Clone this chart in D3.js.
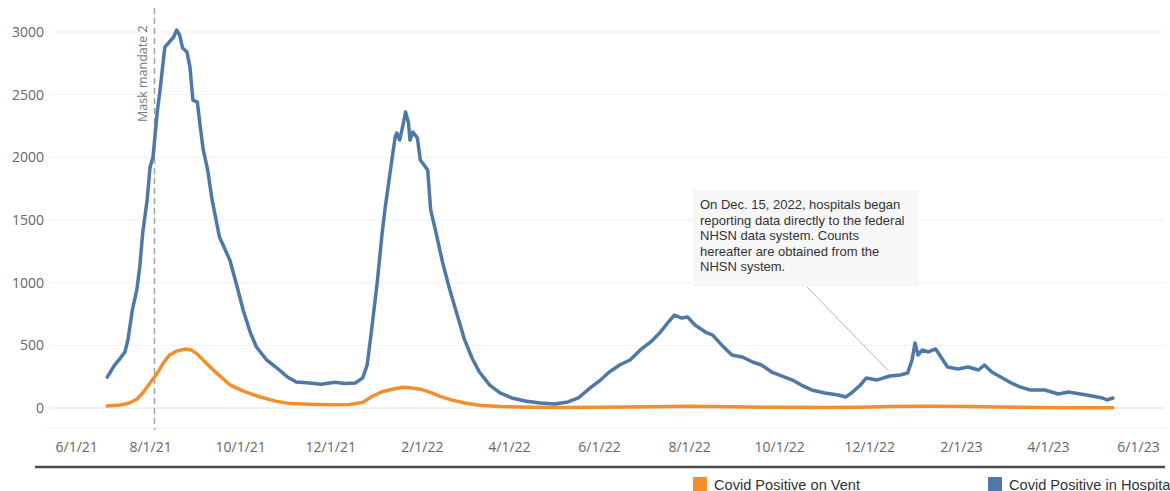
<!DOCTYPE html>
<html lang="en">
<head>
<meta charset="utf-8">
<title>Covid Positive Hospitalizations</title>
<style>
  body {margin: 0; background: #fff; overflow: hidden;}
  svg  {display: block;}
  .tick text {font-family: "Open Sans", sans-serif; font-size: 14px; fill: #666;}
  .note {font-family: "Liberation Sans", Arial, sans-serif; font-size: 13px; fill: #333;}
  .legend text {font-family: "Liberation Sans", Arial, sans-serif; font-size: 14.6px; fill: #333;}
</style>
</head>
<body>

<svg id="chart" width="1170" height="491"></svg>

<script src="https://d3js.org/d3.v7.min.js"></script>

<script>
// hospitalized covid positive patients
const hospDates = [
  "2021-07-03","2021-07-08","2021-07-12","2021-07-15","2021-07-17","2021-07-20","2021-07-23","2021-07-25",
  "2021-07-27","2021-07-30","2021-08-01","2021-08-03","2021-08-06","2021-08-08","2021-08-10","2021-08-11",
  "2021-08-14","2021-08-17","2021-08-19","2021-08-21","2021-08-23","2021-08-26","2021-08-28","2021-08-30",
  "2021-09-02","2021-09-04","2021-09-06","2021-09-09","2021-09-12","2021-09-17","2021-09-24","2021-09-29",
  "2021-10-03","2021-10-08","2021-10-12","2021-10-19","2021-10-26","2021-11-02","2021-11-08","2021-11-17",
  "2021-11-25","2021-12-04","2021-12-11","2021-12-18","2021-12-23","2021-12-26","2021-12-29","2022-01-02",
  "2022-01-05","2022-01-07","2022-01-12","2022-01-14","2022-01-15","2022-01-17","2022-01-19","2022-01-21",
  "2022-01-23","2022-01-24","2022-01-26","2022-01-29","2022-01-31","2022-02-05","2022-02-07","2022-02-11",
  "2022-02-15","2022-02-20","2022-02-25","2022-03-02","2022-03-07","2022-03-12","2022-03-19","2022-03-26",
  "2022-04-03","2022-04-12","2022-04-22","2022-05-02","2022-05-11","2022-05-18","2022-05-26","2022-06-02",
  "2022-06-08","2022-06-15","2022-06-22","2022-06-29","2022-07-06","2022-07-12","2022-07-18","2022-07-22",
  "2022-07-27","2022-07-31","2022-08-05","2022-08-12","2022-08-17","2022-08-23","2022-08-30","2022-09-06",
  "2022-09-13","2022-09-19","2022-09-26","2022-10-03","2022-10-10","2022-10-16","2022-10-23","2022-11-01",
  "2022-11-10","2022-11-15","2022-11-19","2022-11-25","2022-11-29","2022-12-06","2022-12-15","2022-12-22",
  "2022-12-27","2022-12-30","2023-01-01","2023-01-03","2023-01-06","2023-01-10","2023-01-15","2023-01-19",
  "2023-01-23","2023-01-30","2023-02-06","2023-02-13","2023-02-17","2023-02-22","2023-02-28","2023-03-06",
  "2023-03-13","2023-03-20","2023-03-30","2023-04-08","2023-04-15","2023-04-23","2023-05-01","2023-05-08",
  "2023-05-11","2023-05-15"
];
const hospValues = [
  247, 343, 400, 447, 543, 782, 942, 1125,
  1396, 1660, 1923, 2003, 2378, 2561, 2777, 2880,
  2920, 2960, 3016, 2976, 2872, 2840, 2720, 2457,
  2441, 2242, 2059, 1899, 1660, 1364, 1181, 965,
  782, 598, 487, 383, 319, 247, 207, 200,
  190, 205, 195, 200, 240, 343, 622, 1021,
  1380, 1580, 2003, 2162, 2194, 2138, 2242, 2362,
  2274, 2138, 2202, 2154, 1979, 1899, 1580, 1380,
  1165, 942, 742, 543, 399, 287, 183, 120,
  80, 56, 40, 32, 48, 80, 160, 223,
  287, 343, 383, 463, 527, 598, 686, 742,
  718, 726, 662, 606, 582, 503, 423, 407,
  367, 343, 287, 255, 223, 183, 144, 120,
  104, 88, 120, 183, 240, 223, 255, 263,
  279, 383, 519, 423, 463, 447, 471, 399,
  327, 311, 327, 303, 343, 287, 247, 207,
  168, 144, 144, 112, 128, 112, 96, 80,
  64, 80
];

// covid positive patients on ventilator
const ventDates = [
  "2021-07-03","2021-07-12","2021-07-18","2021-07-23","2021-07-27","2021-08-01","2021-08-06","2021-08-10",
  "2021-08-14","2021-08-19","2021-08-25","2021-08-29","2021-09-02","2021-09-07","2021-09-14","2021-09-24",
  "2021-10-04","2021-10-14","2021-10-25","2021-11-04","2021-11-17","2021-12-01","2021-12-14","2021-12-23",
  "2021-12-29","2022-01-05","2022-01-12","2022-01-19","2022-01-25","2022-01-31","2022-02-07","2022-02-13",
  "2022-02-21","2022-03-02","2022-03-12","2022-03-26","2022-04-15","2022-05-06","2022-06-02","2022-07-06",
  "2022-08-02","2022-08-29","2022-10-02","2022-11-04","2022-11-25","2022-12-15","2023-01-11","2023-02-07",
  "2023-02-28","2023-03-27","2023-04-23","2023-05-15"
];
const ventValues = [
  16, 24, 40, 70, 120, 200, 280, 360,
  420, 455, 470, 462, 430, 370, 290, 185,
  130, 90, 55, 35, 30, 25, 28, 45,
  90, 130, 150, 165, 160, 150, 125, 95,
  65, 40, 22, 12, 5, 3, 6, 10,
  14, 10, 5, 3, 6, 12, 14, 12,
  8, 3, 2, 2
];

const tickDates = ["2021-06-01","2021-08-01","2021-10-01","2021-12-01","2022-02-01","2022-04-01",
                   "2022-06-01","2022-08-01","2022-10-01","2022-12-01","2023-02-01","2023-04-01","2023-06-01"];
const yTicks = [0, 500, 1000, 1500, 2000, 2500, 3000];

const maskDate = "2021-08-04";
const noteLines = [
  "On Dec. 15, 2022, hospitals began",
  "reporting data directly to the federal",
  "NHSN data system. Counts",
  "hereafter are obtained from the",
  "NHSN system."
];
const noteDate = "2022-12-22";   // where the callout points
const noteValue = 290;

const legendItems = [
  {label: "Covid Positive on Vent", color: "#f28e2b", x: 693},
  {label: "Covid Positive in Hospital", color: "#4e79a7", x: 988}
];

const parse = d3.utcParse("%Y-%m-%d");
const svg = d3.select("#chart");

const x = d3.scaleUtc()
  .domain([parse("2021-06-01"), parse("2023-06-01")])
  .range([60, 1138]);
const y = d3.scaleLinear().domain([0, 3000]).range([408, 32]);

// grid
svg.append("g")
  .selectAll("line")
  .data(yTicks)
  .join("line")
    .attr("x1", 50).attr("x2", 1165)
    .attr("y1", d => y(d)).attr("y2", d => y(d))
    .attr("stroke", d => d === 0 ? "#e4e4e4" : "#f1f1f1")
    .attr("stroke-width", 1);

svg.append("line")
  .attr("x1", 47).attr("x2", 1165).attr("y1", 428).attr("y2", 428)
  .attr("stroke", "#f3f3f3");

// y axis
svg.append("g")
  .attr("transform", "translate(50,0)")
  .call(d3.axisLeft(y).tickValues(yTicks).tickSize(0).tickPadding(6).tickFormat(d3.format("d")))
  .call(g => g.select(".domain").remove());

// x axis
const xAxis = svg.append("g")
  .attr("transform", "translate(0,436)")
  .call(d3.axisBottom(x).tickValues(tickDates.map(parse)).tickSize(0).tickPadding(6)
        .tickFormat(d3.utcFormat("%-m/%-d/%y")))
  .call(g => g.select(".domain").remove());
xAxis.selectAll(".tick").filter((d, i) => i === 0).select("text")
  .attr("text-anchor", "start").attr("x", -5);

svg.append("line")
  .attr("x1", 35).attr("x2", 1165).attr("y1", 467).attr("y2", 467)
  .attr("stroke", "#4a4a4a").attr("stroke-width", 2.5);

// mask mandate reference line
const mx = x(parse(maskDate));
svg.append("line")
  .attr("x1", mx).attr("x2", mx).attr("y1", 8).attr("y2", 430)
  .attr("stroke", "#a0a0a0").attr("stroke-width", 1.5)
  .attr("stroke-dasharray", "6,4");
svg.append("text")
  .attr("transform", `translate(${mx - 8},122) rotate(-90)`)
  .attr("font-family", "'Open Sans', sans-serif")
  .attr("font-size", 12.5)
  .attr("fill", "#777")
  .text("Mask mandate 2");

// series lines
const line = d3.line()
  .x(d => x(d[0]))
  .y(d => y(d[1]));

const ventData = ventDates.map((d, i) => [parse(d), ventValues[i]]);
const hospData = hospDates.map((d, i) => [parse(d), hospValues[i]]);

svg.append("path")
  .datum(ventData)
  .attr("d", line)
  .attr("fill", "none")
  .attr("stroke", "#f28e2b")
  .attr("stroke-width", 3.5)
  .attr("stroke-linejoin", "round")
  .attr("stroke-linecap", "round");

svg.append("path")
  .datum(hospData)
  .attr("d", line)
  .attr("fill", "none")
  .attr("stroke", "#4e79a7")
  .attr("stroke-width", 3.5)
  .attr("stroke-linejoin", "round")
  .attr("stroke-linecap", "round");

// annotation
const note = svg.append("g");
note.append("line")
  .attr("x1", 807).attr("y1", 287)
  .attr("x2", x(parse(noteDate)) - 12).attr("y2", y(noteValue) - 1)
  .attr("stroke", "#b5b5b5").attr("stroke-width", 1);
note.append("rect")
  .attr("x", 693).attr("y", 190).attr("width", 226).attr("height", 97)
  .attr("fill", "#f7f7f7");
note.selectAll("text")
  .data(noteLines)
  .join("text")
    .attr("class", "note")
    .attr("x", 700)
    .attr("y", (d, i) => 209 + i * 15.5)
    .text(d => d);

// legend
const legend = svg.append("g").attr("class", "legend");
legendItems.forEach(item => {
  legend.append("rect")
    .attr("x", item.x).attr("y", 477).attr("width", 14).attr("height", 14)
    .attr("fill", item.color);
  legend.append("text")
    .attr("x", item.x + 21).attr("y", 490)
    .text(item.label);
});
</script>

</body>
</html>
